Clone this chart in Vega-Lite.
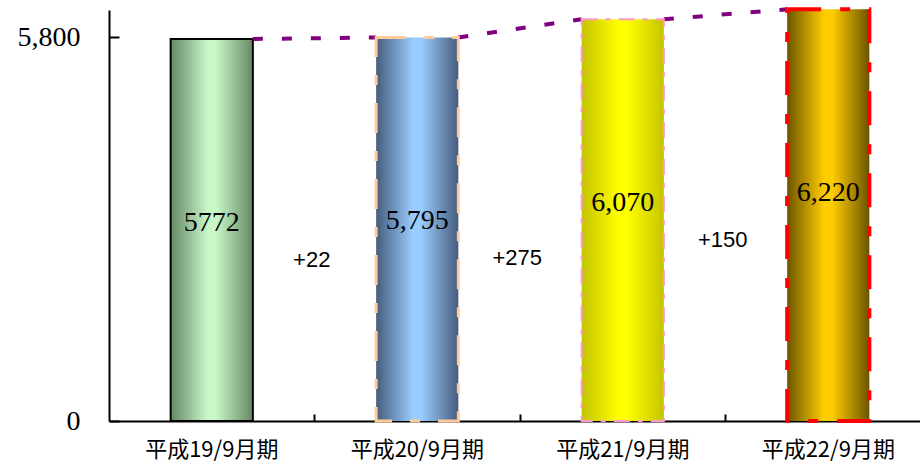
{
  "$schema": "https://vega.github.io/schema/vega-lite/v6.json",
  "autosize": "none",
  "width": 811,
  "height": 411,
  "padding": {"left": 109, "top": 10, "right": 0, "bottom": 45},
  "background": "white",
  "config": {"view": {"stroke": null}},
  "datasets": {
    "bars": [
      {"cat": "平成19/9月期", "value": 5772, "label": "5772"},
      {"cat": "平成20/9月期", "value": 5795, "label": "5,795"},
      {"cat": "平成21/9月期", "value": 6070, "label": "6,070"},
      {"cat": "平成22/9月期", "value": 6220, "label": "6,220"}
    ],
    "diffs": [
      {"cat": "平成19/9月期", "base": 5772, "label": "+22"},
      {"cat": "平成20/9月期", "base": 5795, "label": "+275"},
      {"cat": "平成21/9月期", "base": 6070, "label": "+150"}
    ],
    "links": [
      {"seg": 1, "cat": "平成19/9月期", "edge": "right", "value": 5772},
      {"seg": 1, "cat": "平成20/9月期", "edge": "left", "value": 5795},
      {"seg": 2, "cat": "平成20/9月期", "edge": "right", "value": 5795},
      {"seg": 2, "cat": "平成21/9月期", "edge": "left", "value": 6070},
      {"seg": 3, "cat": "平成21/9月期", "edge": "right", "value": 6070},
      {"seg": 3, "cat": "平成22/9月期", "edge": "left", "value": 6220}
    ]
  },
  "resolve": {"scale": {"xOffset": "independent"}, "axis": {"x": "independent"}},
  "layer": [
    {
      "data": {"name": "bars"},
      "transform": [{"filter": "datum.label == '5772'"}],
      "mark": {
        "type": "bar",
        "stroke": "black",
        "strokeWidth": 2,
        "fill": {"gradient": "linear", "x1": 0, "y1": 0, "x2": 1, "y2": 0,
          "stops": [{"offset": 0, "color": "#668866"}, {"offset": 0.45, "color": "#c8f8c8"}, {"offset": 0.55, "color": "#c8f8c8"}, {"offset": 1, "color": "#668866"}]}
      },
      "encoding": {
        "x": {
          "field": "cat",
          "type": "nominal",
          "sort": ["平成19/9月期", "平成20/9月期", "平成21/9月期", "平成22/9月期"],
          "title": null,
          "scale": {"type": "band", "domain": ["平成19/9月期", "平成20/9月期", "平成21/9月期", "平成22/9月期"], "range": [0, 822], "paddingInner": 0.6, "paddingOuter": 0.3},
          "axis": {
            "orient": "bottom",
            "domain": false,
            "ticks": false,
            "labelFont": "Noto Sans CJK JP",
            "labelFontSize": 22,
            "labelColor": "black",
            "labelPadding": 18,
            "labelAngle": 0,
            "labelBaseline": "top",
            "grid": false
          }
        },
        "y": {"field": "value", "type": "quantitative", "title": null,
          "scale": {"domain": [0, 6210], "nice": false, "zero": true},
          "axis": {
            "values": [0, 5800],
            "labelExpr": "format(datum.value, ',')",
            "grid": false,
            "domainColor": "black",
            "domainWidth": 2,
            "tickColor": "black",
            "tickWidth": 2,
            "tickSize": -10,
            "labelFont": "Liberation Serif",
            "labelFontSize": 28,
            "labelColor": "black",
            "labelPadding": 39
          }
        }
      }
    },
    {
      "data": {"name": "links"},
      "mark": {"type": "line", "color": "#800080", "strokeWidth": 4, "strokeDash": [10, 19]},
      "encoding": {
        "x": {
          "field": "cat",
          "type": "nominal",
          "sort": ["平成19/9月期", "平成20/9月期", "平成21/9月期", "平成22/9月期"],
          "title": null,
          "axis": {
            "orient": "bottom",
            "labels": false,
            "domainColor": "black",
            "domainWidth": 2,
            "bandPosition": 1.75,
            "tickColor": "black",
            "tickWidth": 2,
            "tickSize": -7,
            "grid": false
          }
        },
        "xOffset": {"field": "edge", "type": "nominal", "scale": {"type": "point", "padding": 0, "domain": ["left", "right"]}},
        "y": {"field": "value", "type": "quantitative"},
        "detail": {"field": "seg", "type": "nominal"}
      }
    },
    {
      "data": {"name": "bars"},
      "transform": [{"filter": "datum.label == '5,795'"}],
      "mark": {
        "type": "bar",
        "stroke": "#ffcc99",
        "strokeWidth": 3,
        "strokeDash": [30, 18, 10, 18],
        "fill": {"gradient": "linear", "x1": 0, "y1": 0, "x2": 1, "y2": 0,
          "stops": [{"offset": 0, "color": "#475d7d"}, {"offset": 0.45, "color": "#99ccff"}, {"offset": 0.55, "color": "#99ccff"}, {"offset": 1, "color": "#475d7d"}]}
      },
      "encoding": {
        "x": {"field": "cat", "type": "nominal", "sort": ["平成19/9月期", "平成20/9月期", "平成21/9月期", "平成22/9月期"], "axis": null},
        "y": {"field": "value", "type": "quantitative"}
      }
    },
    {
      "data": {"name": "bars"},
      "transform": [{"filter": "datum.label == '6,070'"}],
      "mark": {
        "type": "bar",
        "stroke": "#ff99cc",
        "strokeWidth": 2,
        "strokeDash": [16, 8, 5, 8],
        "fill": {"gradient": "linear", "x1": 0, "y1": 0, "x2": 1, "y2": 0,
          "stops": [{"offset": 0, "color": "#c4c400"}, {"offset": 0.45, "color": "#ffff00"}, {"offset": 0.55, "color": "#ffff00"}, {"offset": 1, "color": "#c4c400"}]}
      },
      "encoding": {
        "x": {"field": "cat", "type": "nominal", "sort": ["平成19/9月期", "平成20/9月期", "平成21/9月期", "平成22/9月期"], "axis": null},
        "y": {"field": "value", "type": "quantitative"}
      }
    },
    {
      "data": {"name": "bars"},
      "transform": [{"filter": "datum.label == '6,220'"}],
      "mark": {
        "type": "bar",
        "stroke": "#ff0000",
        "strokeWidth": 4,
        "strokeDash": [34, 19, 10, 19],
        "fill": {"gradient": "linear", "x1": 0, "y1": 0, "x2": 1, "y2": 0,
          "stops": [{"offset": 0, "color": "#6b5500"}, {"offset": 0.45, "color": "#ffcc00"}, {"offset": 0.55, "color": "#ffcc00"}, {"offset": 1, "color": "#6b5500"}]}
      },
      "encoding": {
        "x": {"field": "cat", "type": "nominal", "sort": ["平成19/9月期", "平成20/9月期", "平成21/9月期", "平成22/9月期"], "axis": null},
        "y": {"field": "value", "type": "quantitative"}
      }
    },
    {
      "data": {"name": "bars"},
      "mark": {"type": "text", "font": "Liberation Serif", "fontSize": 28, "color": "black", "dy": 184, "baseline": "middle", "align": "center"},
      "encoding": {
        "x": {"field": "cat", "type": "nominal", "sort": ["平成19/9月期", "平成20/9月期", "平成21/9月期", "平成22/9月期"], "axis": null},
        "y": {"field": "value", "type": "quantitative"},
        "text": {"field": "label"}
      }
    },
    {
      "data": {"name": "diffs"},
      "mark": {"type": "text", "font": "Liberation Sans", "fontSize": 22, "color": "black", "dx": 100, "dy": 221, "baseline": "middle", "align": "center"},
      "encoding": {
        "x": {"field": "cat", "type": "nominal", "sort": ["平成19/9月期", "平成20/9月期", "平成21/9月期", "平成22/9月期"], "axis": null},
        "y": {"field": "base", "type": "quantitative"},
        "text": {"field": "label"}
      }
    }
  ]
}
